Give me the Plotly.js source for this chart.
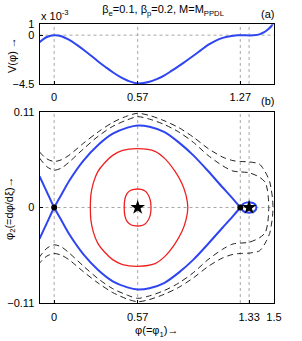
<!DOCTYPE html>
<html><head><meta charset="utf-8">
<script src="https://cdn.plot.ly/plotly-3.0.1.min.js"></script>
<style>html,body{margin:0;padding:0;background:#fff;}</style>
</head><body><div id="chart" style="width:302px;height:341px;"></div>
<script>
// ---- (a) Sagdeev potential, V in units of 1e-3 ----
const vPhi = [-0.1,-0.05,0,0.05,0.1,0.15,0.2,0.25,0.3,0.35,0.4,0.45,0.5,0.57,0.65,0.7,0.75,0.8,0.85,0.9,0.95,1.0,1.05,1.1,1.15,1.2,1.25,1.27,1.3,1.33,1.36,1.4,1.43,1.46,1.48,1.495];
const vVal = [-0.65,-0.17,0,-0.1,-0.42,-0.85,-1.34,-1.87,-2.42,-2.93,-3.42,-3.85,-4.18,-4.45,-4.3,-4.05,-3.72,-3.3,-2.85,-2.38,-1.9,-1.4,-0.9,-0.52,-0.25,-0.09,-0.01,0,-0.01,-0.02,-0.01,0.07,0.25,0.55,0.8,1.1];

// ---- (b) phase portrait ----
// separatrix (blue)
const sepX    = [0,0.05,0.1,0.2,0.3,0.4,0.5,0.57,0.65,0.75,0.85,0.95,1.05,1.15,1.22,1.27];
const sepUp   = [0,0.015,0.030,0.054,0.072,0.085,0.092,0.0945,0.093,0.087,0.075,0.060,0.042,0.023,0.010,0];
const sepDown = [0,-0.015,-0.030,-0.054,-0.072,-0.085,-0.092,-0.0945,-0.093,-0.087,-0.075,-0.060,-0.042,-0.023,-0.010,0];
const armX    = [-0.1,-0.05];
const armUp   = [0.036,0.018];
const armDown = [-0.036,-0.018];
const loopX    = [1.29,1.31,1.33,1.35,1.37,1.38];
const loopUp   = [0.0042,0.0056,0.006,0.0055,0.0038,0];
const loopDown = [-0.0042,-0.0056,-0.006,-0.0055,-0.0038,0];

// closed orbits (red)
const inX    = [0.478,0.483,0.497,0.52,0.545,0.57,0.595,0.62,0.64,0.655,0.661];
const inUp   = [0,0.010,0.016,0.0195,0.021,0.0213,0.021,0.019,0.015,0.009,0];
const inDown = [0,-0.010,-0.016,-0.0195,-0.021,-0.0213,-0.021,-0.019,-0.015,-0.009,0];
const outX    = [0.247,0.251,0.267,0.297,0.342,0.399,0.467,0.57,0.688,0.757,0.825,0.871,0.9,0.912];
const outUp   = [0,0.0148,0.028,0.041,0.051,0.060,0.0657,0.0677,0.0647,0.056,0.0415,0.028,0.014,0];
const outDown = [0,-0.0148,-0.028,-0.041,-0.051,-0.060,-0.0657,-0.0677,-0.0647,-0.056,-0.0415,-0.028,-0.014,0];

// open orbits (dashed)
const aX    = [-0.1,-0.05,0,0.05,0.1,0.2,0.3,0.4,0.5,0.57,0.65,0.75,0.85,0.95,1.05,1.15,1.22,1.27,1.33,1.4,1.44,1.47,1.482,1.49,1.493];
const aUp   = [0.064,0.056,0.053,0.055,0.060,0.074,0.087,0.098,0.1055,0.1085,0.106,0.100,0.092,0.081,0.068,0.058,0.054,0.053,0.0525,0.050,0.041,0.030,0.020,0.010,0];
const aDown = [-0.064,-0.056,-0.053,-0.055,-0.060,-0.074,-0.087,-0.098,-0.1055,-0.1085,-0.106,-0.100,-0.092,-0.081,-0.068,-0.058,-0.054,-0.053,-0.0525,-0.050,-0.041,-0.030,-0.020,-0.010,0];
const bX    = [-0.1,-0.05,0,0.05,0.1,0.2,0.3,0.4,0.5,0.57,0.65,0.75,0.85,0.95,1.05,1.15,1.22,1.27,1.33,1.4,1.44,1.455,1.462,1.464];
const bUp   = [0.057,0.047,0.043,0.0455,0.052,0.0675,0.082,0.0935,0.101,0.1046,0.1018,0.0957,0.087,0.075,0.060,0.048,0.042,0.041,0.040,0.035,0.029,0.020,0.010,0];
const bDown = [-0.057,-0.047,-0.043,-0.0455,-0.052,-0.0675,-0.082,-0.0935,-0.101,-0.1046,-0.1018,-0.0957,-0.087,-0.075,-0.060,-0.048,-0.042,-0.041,-0.040,-0.035,-0.029,-0.020,-0.010,0];

// fixed points
const saddleX = [0,1.27], saddleY = [0,0];
const centreX = [0.57,1.33], centreY = [0,0];

// reference lines and ticks
const refPhi = [0,0.57,1.27,1.33];
const topTicks = [0,0.57,1.27];
const botTicks = [0,0.57,1.33,1.5];
const vTicks = [-4.5,0,1], vTickText = ['\u22124.5','0','1'];
const pTicks = [-0.11,0,0.11], pTickText = ['\u22120.11','0','0.11'];

const BLUE = '#2f45f0', RED = '#ee2020', DASH = '#222';
const rev = a => a.slice().reverse();

const traces = [];
function dashed(x, up, down){
  traces.push({x: x.concat(rev(x)), y: up.concat(rev(down)), xaxis:'x2', yaxis:'y2', mode:'lines',
    line:{color:DASH, width:1, dash:'6px,4px', shape:'spline', smoothing:0.8}, hoverinfo:'skip'});
}
dashed(aX, aUp, aDown);
dashed(bX, bUp, bDown);
function closed(x, up, down){
  traces.push({x: x.concat(rev(x).slice(1)), y: up.concat(rev(down).slice(1)), xaxis:'x2', yaxis:'y2', mode:'lines',
    line:{color:RED, width:1.3, shape:'spline', smoothing:0.8}, hoverinfo:'skip'});
}
closed(inX, inUp, inDown);
closed(outX, outUp, outDown);
// separatrix as one smooth path through both saddles
traces.push({
  x: armX.concat(sepX, loopX, rev(loopX).slice(1), [1.27], rev(sepX).slice(1), rev(armX)),
  y: armUp.concat(sepDown, loopUp, rev(loopDown).slice(1), [0], rev(sepUp).slice(1), rev(armDown)),
  xaxis:'x2', yaxis:'y2', mode:'lines', line:{color:BLUE, width:2, shape:'spline', smoothing:0.6}, hoverinfo:'skip'});
traces.push({x:saddleX, y:saddleY, xaxis:'x2', yaxis:'y2', mode:'markers', marker:{symbol:'circle', size:6, color:'#000'}});
traces.push({x:centreX, y:centreY, xaxis:'x2', yaxis:'y2', mode:'markers', marker:{symbol:'star', size:11, color:'#000'}});
// potential
traces.push({x:vPhi, y:vVal, xaxis:'x', yaxis:'y', mode:'lines', line:{color:BLUE, width:2, shape:'spline'}});

const shapes = [];
refPhi.forEach(p => {
  shapes.push({type:'line', xref:'x', yref:'y', x0:p, x1:p, y0:-4.5, y1:1, layer:'below', line:{color:'#a8a8a8', width:1, dash:'dot'}});
  shapes.push({type:'line', xref:'x2', yref:'y2', x0:p, x1:p, y0:-0.11, y1:0.11, layer:'below', line:{color:'#a8a8a8', width:1, dash:'dot'}});
});
shapes.push({type:'line', xref:'x', yref:'y', x0:-0.1, x1:1.5, y0:0, y1:0, layer:'below', line:{color:'#a8a8a8', width:1, dash:'dot'}});
shapes.push({type:'line', xref:'x2', yref:'y2', x0:-0.1, x1:1.5, y0:0, y1:0, layer:'below', line:{color:'#a8a8a8', width:1, dash:'dot'}});

const FONT = {family:'"Liberation Sans", Arial, sans-serif', size:11, color:'#000'};
const axBase = {showgrid:false, zeroline:false, showline:true, mirror:true, linecolor:'#000', linewidth:1,
  ticks:'inside', ticklen:3, tickcolor:'#000', tickfont:FONT, fixedrange:true};
const xDom = [0.1308, 0.9073];

const layout = {
  width:302, height:341, margin:{l:0,r:0,t:0,b:0},
  paper_bgcolor:'#fff', plot_bgcolor:'#fff', showlegend:false, font:FONT,
  title:{text:'β<sub>e</sub>=0.1, β<sub>p</sub>=0.2, M=M<sub>PPDL</sub>', x:0.54, xanchor:'center', y:0.972, yanchor:'middle', font:FONT},
  xaxis: Object.assign({}, axBase, {domain:xDom, range:[-0.1,1.5], anchor:'y', tickvals:topTicks, ticktext:topTicks.map(String), ticklabelstandoff:3}),
  yaxis: Object.assign({}, axBase, {domain:[0.7537,0.9287], range:[-4.5,1], anchor:'x', tickvals:vTicks, ticktext:vTickText, ticklabelstandoff:2}),
  xaxis2: Object.assign({}, axBase, {domain:xDom, range:[-0.1,1.5], anchor:'y2', tickvals:botTicks, ticktext:botTicks.map(String), ticklabelstandoff:4,
    title:{text:'φ(=φ<sub>1</sub>)→', font:FONT, standoff:4}}),
  yaxis2: Object.assign({}, axBase, {domain:[0.1114,0.6716], range:[-0.11,0.11], anchor:'x2', tickvals:pTicks, ticktext:pTickText, ticklabelstandoff:2}),
  shapes: shapes,
  annotations:[
    {text:'x 10<sup>-3</sup>', xref:'paper', yref:'paper', x:0.13, y:0.957, xanchor:'left', yanchor:'middle', showarrow:false, font:FONT},
    {text:'(a)', xref:'paper', yref:'paper', x:0.915, y:0.959, xanchor:'right', yanchor:'middle', showarrow:false, font:FONT},
    {text:'(b)', xref:'paper', yref:'paper', x:0.915, y:0.704, xanchor:'right', yanchor:'middle', showarrow:false, font:FONT},
    {text:'V(φ) →', xref:'paper', yref:'paper', x:0.04, y:0.839, xanchor:'center', yanchor:'middle', textangle:-90, showarrow:false, font:FONT},
    {text:'φ<sub>2</sub>(=dφ/dξ)→', xref:'paper', yref:'paper', x:0.033, y:0.39, xanchor:'center', yanchor:'middle', textangle:-90, showarrow:false, font:FONT}
  ]
};
Plotly.newPlot('chart', traces, layout, {staticPlot:true, displayModeBar:false});
</script></body></html>
